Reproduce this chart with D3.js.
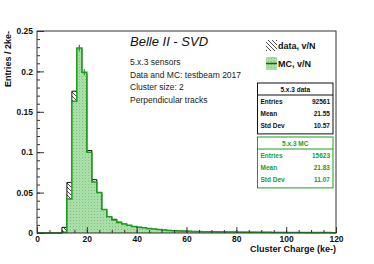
<!DOCTYPE html>
<html>
<head>
<meta charset="utf-8">
<script src="https://cdn.jsdelivr.net/npm/d3@7"></script>
<style>
  body { margin: 0; background: #fff; }
  text { font-family: "Liberation Sans", Arial, sans-serif; }
</style>
</head>
<body>
<div id="chart"></div>
<script>
// bins of 2 ke-, from 0 to 120
const binEdges = d3.range(0, 122, 2);
const dataValues = [0, 0, 0, 0, 0, 0.007, 0.0626, 0.1755, 0.228, 0.197,
    0.102, 0.066, 0.049, 0.029, 0.020, 0.017, 0.0135, 0.011, 0.0093, 0.008,
    0.007, 0.0063, 0.0055, 0.0047, 0.0041, 0.0036, 0.0032, 0.0029, 0.0026, 0.0023,
    0.0021, 0.0019, 0.0017, 0.0016, 0.0015, 0.0014, 0.0013, 0.0012, 0.0011, 0.0011,
    0.001, 0.001, 0.0009, 0.0009, 0.0008, 0.0008, 0.0008, 0.0007, 0.0007, 0.0007,
    0.0006, 0.0006, 0.0006, 0.0006, 0.0005, 0.0005, 0.0005, 0.0005, 0.0005, 0.0004];
const mcValues = [0, 0, 0, 0, 0, 0.001, 0.042, 0.163, 0.229, 0.199,
    0.100, 0.063, 0.050, 0.029, 0.020, 0.016, 0.013, 0.011, 0.0095, 0.008,
    0.007, 0.0065, 0.0055, 0.0048, 0.0042, 0.0037, 0.0032, 0.0029, 0.0026, 0.0023,
    0.0021, 0.0019, 0.0018, 0.0016, 0.0015, 0.0014, 0.0013, 0.0012, 0.0012, 0.0011,
    0.001, 0.001, 0.0009, 0.0009, 0.0009, 0.0008, 0.0008, 0.0007, 0.0007, 0.0007,
    0.0006, 0.0006, 0.0006, 0.0006, 0.0005, 0.0005, 0.0005, 0.0005, 0.0005, 0.0004];
const mcErrBins = [8, 9];
const mcErr = [0.004, 0.0037];

const xTicks = [0, 20, 40, 60, 80, 100, 120];
const yTicks = [0, 0.05, 0.1, 0.15, 0.2, 0.25];

const infoLines = ["5.x.3 sensors", "Data and MC: testbeam 2017", "Cluster size: 2", "Perpendicular tracks"];
const statsData = [["Entries", "92561"], ["Mean", "21.55"], ["Std Dev", "10.57"]];
const statsMC = [["Entries", "15623"], ["Mean", "21.83"], ["Std Dev", "11.07"]];

const W = 374, H = 264;
const plotLeft = 37, plotRight = 336, plotTop = 31, plotBottom = 233;
const green = "#1c9e1c";
const font = '"Liberation Sans", Arial, sans-serif';

const svg = d3.select('#chart').append('svg')
    .attr('width', W).attr('height', H);

const defs = svg.append('defs');
const hatch = defs.append('pattern')
    .attr('id', 'hatch').attr('patternUnits', 'userSpaceOnUse')
    .attr('width', 4).attr('height', 4);
hatch.append('path').attr('d', 'M-1,-1 L5,5 M-1,3 L1,5 M3,-1 L5,1')
    .attr('stroke', '#222').attr('stroke-width', 0.8);

const dots = defs.append('pattern')
    .attr('id', 'dots').attr('patternUnits', 'userSpaceOnUse')
    .attr('width', 3).attr('height', 3);
dots.append('rect').attr('width', 3).attr('height', 3).attr('fill', '#a9dea9');
dots.append('rect').attr('x', 1).attr('y', 1).attr('width', 1).attr('height', 1).attr('fill', '#7fc27f');

const x = d3.scaleLinear().domain([0, 120]).range([plotLeft, plotRight]);
const y = d3.scaleLinear().domain([0, 0.25]).range([plotBottom, plotTop]);

const stepPoints = values => {
    const pts = [[0, 0]];
    values.forEach((v, i) => {
        pts.push([binEdges[i], v]);
        pts.push([binEdges[i + 1], v]);
    });
    pts.push([120, 0]);
    return pts;
};
const line = d3.line().x(d => x(d[0])).y(d => y(d[1]));

// data histogram (hatched)
svg.append('path')
    .attr('d', line(stepPoints(dataValues)))
    .attr('fill', 'url(#hatch)')
    .attr('stroke', '#111').attr('stroke-width', 1);

// MC histogram
svg.append('path')
    .attr('d', line(stepPoints(mcValues)))
    .attr('fill', 'url(#dots)')
    .attr('stroke', green).attr('stroke-width', 1.5);

mcErrBins.forEach((b, i) => {
    const cx = x(binEdges[b] + 1);
    svg.append('line')
        .attr('x1', cx).attr('x2', cx)
        .attr('y1', y(mcValues[b] - mcErr[i])).attr('y2', y(mcValues[b] + mcErr[i]))
        .attr('stroke', green).attr('stroke-width', 1.2);
});

// frame
svg.append('rect')
    .attr('x', plotLeft).attr('y', plotTop)
    .attr('width', plotRight - plotLeft).attr('height', plotBottom - plotTop)
    .attr('fill', 'none').attr('stroke', '#333').attr('stroke-width', 1);

// axes with inside ticks
const xAxis = svg.append('g').attr('transform', `translate(0, ${plotBottom})`);
xAxis.call(d3.axisBottom(x).tickValues(d3.range(0, 121, 5)).tickSize(-3).tickFormat(''));
xAxis.append('g').call(d3.axisBottom(x).tickValues(xTicks).tickSize(-6).tickPadding(3).tickFormat(d3.format('d')));
xAxis.selectAll('.domain').remove();
xAxis.selectAll('line').attr('stroke', '#333');
xAxis.selectAll('text').attr('font-size', 8.5).attr('font-weight', 'bold').attr('fill', '#111')
    .attr('font-family', font);

const yAxis = svg.append('g').attr('transform', `translate(${plotLeft}, 0)`);
yAxis.call(d3.axisLeft(y).tickValues(d3.range(0, 0.2501, 0.01)).tickSize(-3).tickFormat(''));
yAxis.append('g').call(d3.axisLeft(y).tickValues(yTicks).tickSize(-7).tickPadding(4)
    .tickFormat(d => d === 0 ? '0' : d3.format('.2~f')(d)));
yAxis.selectAll('.domain').remove();
yAxis.selectAll('line').attr('stroke', '#333');
yAxis.selectAll('text').attr('font-size', 8.5).attr('font-weight', 'bold').attr('fill', '#111')
    .attr('font-family', font);

// axis titles
svg.append('text')
    .attr('x', plotRight).attr('y', 252)
    .attr('text-anchor', 'end')
    .attr('font-size', 9).attr('font-weight', 'bold').attr('fill', '#111')
    .text('Cluster Charge (ke-)');

svg.append('text')
    .attr('transform', `translate(11, ${plotTop}) rotate(-90)`)
    .attr('text-anchor', 'end')
    .attr('font-size', 9).attr('font-weight', 'bold').attr('fill', '#111')
    .text('Entries / 2ke-');

// title and info
svg.append('text')
    .attr('x', 130).attr('y', 46)
    .attr('font-size', 13).attr('font-style', 'italic').attr('fill', '#111')
    .text('Belle II - SVD');

svg.selectAll('.info').data(infoLines).enter().append('text')
    .attr('class', 'info')
    .attr('x', 130).attr('y', (d, i) => 65 + i * 12.6)
    .attr('font-size', 8.5).attr('fill', '#222')
    .text(d => d);

// legend
svg.append('rect').attr('x', 266).attr('y', 40).attr('width', 11).attr('height', 11)
    .attr('fill', 'url(#hatch)');
svg.append('text').attr('x', 278).attr('y', 49)
    .attr('font-size', 9).attr('font-weight', 'bold').attr('fill', '#111')
    .text('data, v/N');
svg.append('rect').attr('x', 266).attr('y', 57).attr('width', 11).attr('height', 13)
    .attr('fill', 'url(#dots)');
svg.append('line').attr('x1', 266).attr('x2', 277).attr('y1', 63.5).attr('y2', 63.5)
    .attr('stroke', '#116611').attr('stroke-width', 1.5);
svg.append('text').attr('x', 278).attr('y', 67)
    .attr('font-size', 9).attr('font-weight', 'bold').attr('fill', '#111')
    .text('MC, v/N');

// stat boxes
const statBox = (y0, title, rows, color) => {
    const bx = 257.5, bw = 75.5, rowH = 12.3;
    const g = svg.append('g');
    g.append('rect').attr('x', bx).attr('y', y0).attr('width', bw).attr('height', 12 + rows.length * rowH + 2)
        .attr('fill', '#fff').attr('stroke', color).attr('stroke-width', 1);
    g.append('line').attr('x1', bx).attr('x2', bx + bw).attr('y1', y0 + 12).attr('y2', y0 + 12)
        .attr('stroke', color).attr('stroke-width', 1);
    g.append('text').attr('x', bx + bw / 2).attr('y', y0 + 9)
        .attr('text-anchor', 'middle').attr('font-size', 6.5).attr('font-weight', 'bold').attr('fill', color)
        .text(title);
    rows.forEach((r, i) => {
        const ty = y0 + 12 + rowH * (i + 1) - 3.5;
        g.append('text').attr('x', bx + 3).attr('y', ty)
            .attr('font-size', 6.5).attr('font-weight', 'bold').attr('fill', color).text(r[0]);
        g.append('text').attr('x', bx + bw - 3).attr('y', ty).attr('text-anchor', 'end')
            .attr('font-size', 6.5).attr('font-weight', 'bold').attr('fill', color).text(r[1]);
    });
};
statBox(83, '5.x.3 data', statsData, '#111');
statBox(137, '5.x.3 MC', statsMC, green);
</script>
</body>
</html>
